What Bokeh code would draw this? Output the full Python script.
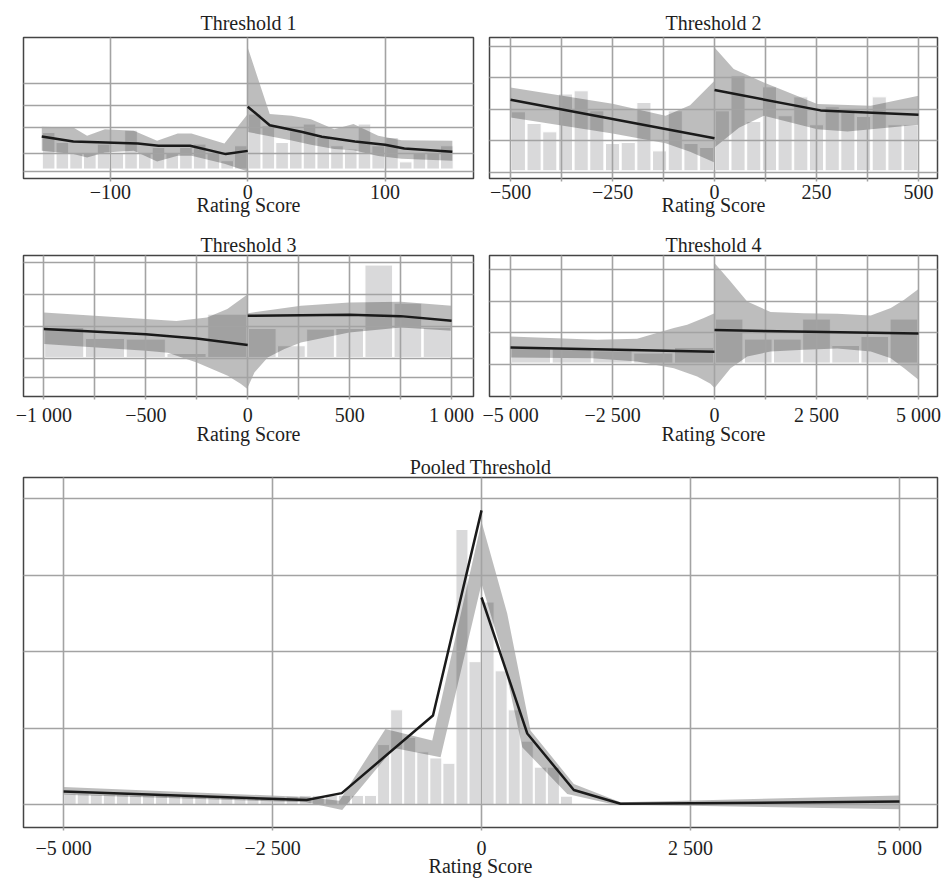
from bokeh.plotting import figure
from bokeh.layouts import column, row
from bokeh.models import FixedTicker, Range1d
from bokeh.embed import file_html
from bokeh.resources import INLINE

FONT = "Liberation Serif"
TXT = "#1e1e1e"
BAR = "#d9d9da"
GRID = "#a3a3a3"
FRAME = "#444444"
LINE = "#1a1a1a"
FS = "20px"
XLABEL = "Rating Score"

# ---------------- Threshold 1 ----------------
t1_title = "Threshold 1"
t1_bar_w = 10
t1_bar_base = 6.7
t1_bar_x = [-145, -135, -125, -115, -105, -95, -85, -75, -65, -55, -45, -35, -25, -15, -5,
            5, 15, 25, 35, 45, 55, 65, 75, 85, 95, 105, 115, 125, 135, 145]
t1_bar_top = [32.6, 25.5, 17.7, 17.7, 24.4, 17.7, 34.3, 17.7, 22.0, 17.7, 22.0, 24.4, 17.7, 12.6, 23.2,
              45.7, 37.4, 25.5, 33.8, 38.6, 29.1, 23.2, 20.9, 38.6, 23.2, 29.1, 11.8, 18.4, 18.4, 23.2]
t1_line_l_x = [-150, -127, -80, -65, -42, -16, 0]
t1_line_l_y = [29.8, 26.2, 24.8, 23.2, 23.2, 17.3, 19.6]
t1_line_r_x = [0, 16, 39, 54, 78, 100, 114, 149]
t1_line_r_y = [50.9, 37.8, 33.1, 29.6, 26.2, 23.9, 21.3, 18.9]
t1_band_l_x = [-150, -127, -117, -104, -83, -66, -51, -41, -17, 0]
t1_band_l_hi = [36.7, 36.2, 30.3, 35.0, 33.8, 26.7, 31.9, 31.9, 24.8, 45.7]
t1_band_l_lo = [19.6, 17.3, 14.9, 18.4, 19.6, 12.1, 16.1, 16.1, 10.4, 5.0]
t1_band_r_x = [0, 16, 32, 46, 63, 77, 95, 112, 149]
t1_band_r_hi = [92.9, 45.7, 44.5, 42.1, 35.0, 38.6, 30.3, 27.2, 26.7]
t1_band_r_lo = [33.0, 30.0, 27.0, 24.0, 21.0, 20.0, 16.0, 14.0, 12.6]
t1_ygrid = [4.75, 18.0, 36.2, 51.6, 67.4]
t1_ticks = [-100, 0, 100]
t1_minor = []
t1_labels = ["\u2212100", "0", "100"]

# ---------------- Threshold 2 ----------------
t2_title = "Threshold 2"
t2_bar_w = 38.46
t2_bar_base = 5.5
t2_bar_x = [-480.8, -442.3, -403.8, -365.4, -326.9, -288.5, -250.0, -211.5, -173.1, -134.6, -96.2, -57.7, -19.2,
            19.2, 57.7, 96.2, 134.6, 173.1, 211.5, 250.0, 288.5, 326.9, 365.4, 403.8, 442.3, 480.8]
t2_bar_top = [47.3, 39.0, 33.1, 59.9, 62.2, 48.0, 24.8, 25.5, 53.9, 19.6, 48.0, 24.8, 22.0,
              48.0, 72.8, 40.4, 65.0, 44.5, 57.9, 38.1, 50.9, 46.8, 44.0, 57.9, 38.1, 38.1]
t2_line_l_x = [-500, 0]
t2_line_l_y = [55.8, 28.6]
t2_line_r_x = [0, 260, 500]
t2_line_r_y = [62.7, 48.3, 45.2]
t2_band_l_hi_x = [-500, -250, -120, -60, 0]
t2_band_l_hi = [64.5, 53.0, 44.5, 52.0, 69.3]
t2_band_l_lo_x = [-500, -250, -120, -60, 0]
t2_band_l_lo = [43.3, 32.0, 25.0, 19.0, 11.3]
t2_band_r_hi_x = [0, 47, 121, 252, 383, 500]
t2_band_r_hi = [92.9, 77.6, 68.1, 52.8, 51.6, 58.7]
t2_band_r_lo_x = [0, 60, 121, 252, 326, 500]
t2_band_r_lo = [22.0, 36.0, 44.5, 35.0, 33.3, 38.1]
t2_ygrid = [4.3, 26.6, 49.0, 71.5, 93.3]
t2_ticks = [-500, -250, 0, 250, 500]
t2_minor = [-375, -125, 125, 375]
t2_labels = ["\u2212500", "\u2212250", "0", "250", "500"]

# ---------------- Threshold 3 ----------------
t3_title = "Threshold 3"
t3_bar_base = 27.7
t3_bar_l_w = 200
t3_bar_l_x = [-900, -700, -500, -300, -100]
t3_bar_l_top = [48.9, 41.1, 40.7, 30.5, 58.4]
t3_bar_r_w = 142.86
t3_bar_r_x = [71.4, 214.3, 357.1, 500.0, 642.9, 785.7, 928.6]
t3_bar_r_top = [48.2, 36.0, 47.8, 48.2, 93.2, 66.2, 48.9]
t3_line_l_x = [-1000, -500, -250, 0]
t3_line_l_y = [47.8, 44.2, 41.1, 36.5]
t3_line_r_x = [0, 500, 750, 1000]
t3_line_r_y = [57.2, 57.9, 57.0, 53.7]
t3_band_l_hi_x = [-1000, -500, -350, -200, -100, 0]
t3_band_l_hi = [59.6, 54.9, 53.5, 56.0, 62.0, 72.6]
t3_band_l_lo_x = [-1000, -500, -392, -250, -98, -33, 0]
t3_band_l_lo = [37.2, 32.4, 31.0, 24.1, 14.7, 8.8, 5.2]
t3_band_r_hi_x = [0, 261, 498, 752, 1000]
t3_band_r_hi = [59.1, 64.3, 66.7, 67.2, 64.3]
t3_band_r_lo_x = [0, 33, 98, 180, 261, 498, 752, 1000]
t3_band_r_lo = [6.4, 17.0, 27.7, 33.6, 38.3, 45.4, 48.9, 46.6]
t3_ygrid = [13.6, 27.0, 49.7, 72.1, 94.9]
t3_ticks = [-1000, -500, 0, 500, 1000]
t3_minor = [-750, -250, 250, 750]
t3_labels = ["\u22121 000", "\u2212500", "0", "500", "1 000"]

# ---------------- Threshold 4 ----------------
t4_title = "Threshold 4"
t4_bar_base = 23.7
t4_bar_l_w = 1000
t4_bar_l_x = [-4500, -3500, -2500, -1500, -500]
t4_bar_l_top = [34.3, 33.8, 32.4, 30.8, 34.8]
t4_bar_r_w = 714.3
t4_bar_r_x = [357.1, 1071.4, 1785.7, 2500.0, 3214.3, 3928.6, 4642.9]
t4_bar_r_top = [54.9, 40.7, 40.7, 54.9, 36.2, 42.6, 54.9]
t4_line_l_x = [-5000, 0]
t4_line_l_y = [34.8, 31.7]
t4_line_r_x = [0, 5000]
t4_line_r_y = [47.1, 44.7]
t4_band_l_hi_x = [-5000, -2880, -1898, -998, -671, -262, 0]
t4_band_l_hi = [42.6, 40.2, 41.0, 48.5, 50.9, 55.6, 59.1]
t4_band_l_lo_x = [-5000, -3000, -1898, -998, -426, -100, 0]
t4_band_l_lo = [27.7, 27.2, 24.8, 20.1, 14.2, 9.0, 6.0]
t4_band_r_x = [0, 393, 802, 1375, 2193, 3011, 3830, 4321, 4648, 5000]
t4_band_r_hi = [94.6, 81.6, 67.4, 59.9, 59.1, 58.6, 57.4, 62.7, 68.6, 76.2]
t4_band_r_lo = [6.0, 20.1, 28.4, 31.9, 33.1, 34.0, 31.9, 27.2, 20.1, 11.8]
t4_ygrid = [23.0, 45.3, 67.6, 90.1]
t4_ticks = [-5000, -2500, 0, 2500, 5000]
t4_minor = [-3750, -1250, 1250, 3750]
t4_labels = ["\u22125 000", "\u22122 500", "0", "2 500", "5 000"]

# ---------------- Pooled ----------------
p5_title = "Pooled Threshold"
p5_bar_w = 156.25
p5_bar_l_start = -5000
p5_bar_l_h = [0.14, 0.14, 0.13, 0.13, 0.13, 0.12, 0.12, 0.12, 0.11, 0.11, 0.11, 0.10, 0.10, 0.10, 0.10, 0.10,
              0.10, 0.11, 0.12, 0.12, 0.12, 0.12, 0.12, 0.12, 0.785, 1.24, 0.88, 0.69, 0.61, 0.54, 3.60, 1.87]
p5_bar_r_start = 0
p5_bar_r_h = [2.65, 1.75, 1.24, 0.83, 0.49, 0.49, 0.11]
p5_line_l_x = [-5000, -2093, -1672, -581, 0]
p5_line_l_y = [0.17, 0.06, 0.15, 1.165, 3.85]
p5_line_r_x = [0, 547, 1104, 1663, 5000]
p5_line_r_y = [2.71, 0.93, 0.19, 0.01, 0.04]
p5_band_l_hi_x = [-5000, -2100, -1700, -1150, -590, 0]
p5_band_l_hi = [0.23, 0.10, 0.05, 0.99, 0.84, 3.70]
p5_band_l_lo_x = [-5000, -2100, -1667, -1049, -490, 0]
p5_band_l_lo = [0.13, 0.03, -0.07, 0.74, 0.62, 2.89]
p5_band_r_hi_x = [0, 307, 586, 1104, 1663, 5000]
p5_band_r_hi = [3.70, 2.50, 0.97, 0.27, 0.03, 0.12]
p5_band_r_lo_x = [0, 227, 487, 1025, 1583, 5000]
p5_band_r_lo = [2.89, 2.06, 0.75, 0.14, 0.00, -0.06]
p5_ygrid = [0, 1, 2, 3, 4]
p5_ticks = [-5000, -2500, 0, 2500, 5000]
p5_minor = []
p5_labels = ["\u22125 000", "\u22122 500", "0", "2 500", "5 000"]


def make_panel(title, xr, yr, ticks, minor, labels, ygrid, fw, fh, bl, br, bt, bb,
               title_standoff, tick_standoff, label_standoff):
    p = figure(frame_width=fw, frame_height=fh, x_range=Range1d(*xr), y_range=Range1d(*yr),
               min_border_left=bl, min_border_right=br, min_border_top=bt, min_border_bottom=bb,
               output_backend="svg", toolbar_location=None, title=title)
    p.background_fill_color = "white"
    p.border_fill_color = "white"
    p.outline_line_color = FRAME
    p.outline_line_width = 1.5
    p.title.align = "center"
    p.title.text_font = FONT
    p.title.text_font_size = FS
    p.title.text_font_style = "normal"
    p.title.text_color = TXT
    p.title.standoff = title_standoff
    tk = FixedTicker(ticks=ticks, minor_ticks=minor)
    p.xaxis.ticker = tk
    p.xgrid.ticker = tk
    p.xaxis.major_label_overrides = {t: l for t, l in zip(ticks, labels)}
    p.xaxis.axis_line_color = None
    p.xaxis.major_tick_line_color = GRID
    p.xaxis.major_tick_line_width = 1.5
    p.xaxis.major_tick_out = 3
    p.xaxis.major_tick_in = 0
    p.xaxis.minor_tick_line_color = GRID
    p.xaxis.minor_tick_line_width = 1.5
    p.xaxis.minor_tick_out = 3
    p.xaxis.minor_tick_in = 0
    p.xaxis.major_label_text_font = FONT
    p.xaxis.major_label_text_font_size = FS
    p.xaxis.major_label_text_color = TXT
    p.xaxis.major_label_standoff = tick_standoff
    p.xaxis.axis_label = XLABEL
    p.xaxis.axis_label_text_font = FONT
    p.xaxis.axis_label_text_font_size = FS
    p.xaxis.axis_label_text_font_style = "normal"
    p.xaxis.axis_label_text_color = TXT
    p.xaxis.axis_label_standoff = label_standoff
    p.yaxis.visible = False
    p.ygrid.ticker = FixedTicker(ticks=ygrid, minor_ticks=[])
    for g in (p.xgrid, p.ygrid):
        g.grid_line_color = GRID
        g.grid_line_width = 1.6
        g.level = "annotation"
    p.xgrid.minor_grid_line_color = GRID
    p.xgrid.minor_grid_line_width = 1.6
    return p


def add_bars(p, xs, tops, width, base):
    p.vbar(x=xs, top=tops, bottom=base, width=width, fill_color=BAR, line_color="white", line_width=1)


def add_band(p, hx, hy, lx, ly):
    p.patch(list(hx) + list(lx)[::-1], list(hy) + list(ly)[::-1],
            fill_color="black", fill_alpha=0.26, line_color=None)


def add_line(p, xs, ys):
    r = p.line(xs, ys, line_color=LINE, line_width=2.5)
    r.level = "overlay"


# Threshold 1
p1 = make_panel(t1_title, (-163.3, 164.4), (0, 100), t1_ticks, t1_minor, t1_labels, t1_ygrid,
                450, 141, 23, 7, 37, 48, 8, 3, -8)
add_bars(p1, t1_bar_x, t1_bar_top, t1_bar_w * 0.92, t1_bar_base)
add_band(p1, t1_band_l_x, t1_band_l_hi, t1_band_l_x, t1_band_l_lo)
add_band(p1, t1_band_r_x, t1_band_r_hi, t1_band_r_x, t1_band_r_lo)
add_line(p1, t1_line_l_x, t1_line_l_y)
add_line(p1, t1_line_r_x, t1_line_r_y)

# Threshold 2
p2 = make_panel(t2_title, (-551.6, 546.6), (0, 100), t2_ticks, t2_minor, t2_labels, t2_ygrid,
                448, 141, 9, 5, 37, 48, 8, 3, -8)
add_bars(p2, t2_bar_x, t2_bar_top, t2_bar_w * 0.9, t2_bar_base)
add_band(p2, t2_band_l_hi_x, t2_band_l_hi, t2_band_l_lo_x, t2_band_l_lo)
add_band(p2, t2_band_r_hi_x, t2_band_r_hi, t2_band_r_lo_x, t2_band_r_lo)
add_line(p2, t2_line_l_x, t2_line_l_y)
add_line(p2, t2_line_r_x, t2_line_r_y)

# Threshold 3
p3 = make_panel(t3_title, (-1099.7, 1107.5), (0, 100), t3_ticks, t3_minor, t3_labels, t3_ygrid,
                450, 141, 23, 7, 29, 52, 0, 4, -6)
add_bars(p3, t3_bar_l_x, t3_bar_l_top, t3_bar_l_w * 0.96, t3_bar_base)
add_bars(p3, t3_bar_r_x, t3_bar_r_top, t3_bar_r_w * 0.95, t3_bar_base)
add_band(p3, t3_band_l_hi_x, t3_band_l_hi, t3_band_l_lo_x, t3_band_l_lo)
add_band(p3, t3_band_r_hi_x, t3_band_r_hi, t3_band_r_lo_x, t3_band_r_lo)
add_line(p3, t3_line_l_x, t3_line_l_y)
add_line(p3, t3_line_r_x, t3_line_r_y)

# Threshold 4
p4 = make_panel(t4_title, (-5516, 5466), (0, 100), t4_ticks, t4_minor, t4_labels, t4_ygrid,
                448, 141, 9, 5, 29, 52, 0, 4, -6)
add_bars(p4, t4_bar_l_x, t4_bar_l_top, t4_bar_l_w * 0.96, t4_bar_base)
add_bars(p4, t4_bar_r_x, t4_bar_r_top, t4_bar_r_w * 0.95, t4_bar_base)
add_band(p4, t4_band_l_hi_x, t4_band_l_hi, t4_band_l_lo_x, t4_band_l_lo)
add_band(p4, t4_band_r_x, t4_band_r_hi, t4_band_r_x, t4_band_r_lo)
add_line(p4, t4_line_l_x, t4_line_l_y)
add_line(p4, t4_line_r_x, t4_line_r_y)

# Pooled
p5 = make_panel(p5_title, (-5480, 5455), (-0.30, 4.28), p5_ticks, p5_minor, p5_labels, p5_ygrid,
                914, 350, 23, 5, 29, 53, 0, 6, -7)
p5_bar_l_x = [p5_bar_l_start + p5_bar_w * (i + 0.5) for i in range(len(p5_bar_l_h))]
p5_bar_r_x = [p5_bar_r_start + p5_bar_w * (i + 0.5) for i in range(len(p5_bar_r_h))]
add_bars(p5, p5_bar_l_x, p5_bar_l_h, p5_bar_w * 0.92, 0)
add_bars(p5, p5_bar_r_x, p5_bar_r_h, p5_bar_w * 0.92, 0)
add_band(p5, p5_band_l_hi_x, p5_band_l_hi, p5_band_l_lo_x, p5_band_l_lo)
add_band(p5, p5_band_r_hi_x, p5_band_r_hi, p5_band_r_lo_x, p5_band_r_lo)
add_line(p5, p5_line_l_x, p5_line_l_y)
add_line(p5, p5_line_r_x, p5_line_r_y)

layout = column(row(p1, p2), row(p3, p4), p5)
open("out.html", "w").write(file_html(layout, INLINE))
